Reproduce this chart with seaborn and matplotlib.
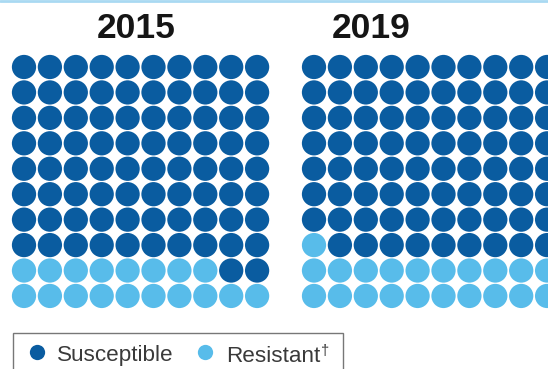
import numpy as np
import pandas as pd
import matplotlib
matplotlib.use("Agg")
import matplotlib.pyplot as plt
from matplotlib.lines import Line2D
from matplotlib.patches import Rectangle
import seaborn as sns

# ---- data ----
years = ["2015", "2019"]
susceptible = [82, 79]
resistant = [18, 21]
categories = ["Susceptible", "Resistant"]
colors = {"Susceptible": "#0a5ca0", "Resistant": "#58bcea"}

sns.set_theme(style="white")
plt.rcParams["font.family"] = ["Liberation Sans", "DejaVu Sans"]

W, H = 548, 369
fig = plt.figure(figsize=(W / 100, H / 100), dpi=100)
fig.patch.set_facecolor("white")

# layout (pixels)
sp_x, sp_y = 25.9, 25.44
grid_left = [24 - sp_x / 2, 314 - sp_x / 2]
grid_top = 67 - sp_y / 2
title_x = [136, 371]

for i, yr in enumerate(years):
    rows = []
    total = susceptible[i] + resistant[i]
    for k in range(total):
        cat = "Resistant" if k < resistant[i] else "Susceptible"
        rows.append({"col": k % 10, "row": 9 - k // 10, "status": cat})
    df = pd.DataFrame(rows)
    ax = fig.add_axes([grid_left[i] / W, 1 - (grid_top + 10 * sp_y) / H,
                       10 * sp_x / W, 10 * sp_y / H])
    sns.scatterplot(data=df, x="col", y="row", hue="status", palette=colors,
                    s=305, linewidth=0, legend=False, ax=ax, clip_on=False)
    ax.set_xlim(-0.5, 9.5)
    ax.set_ylim(9.5, -0.5)
    ax.axis("off")
    fig.text(title_x[i] / W, 1 - 38 / H, yr, ha="center", va="baseline",
             fontsize=25.5, fontweight="bold", color="#151515")

# legend box
fig.patches.append(Rectangle((12.5 / W, -0.05), (343 - 12.5) / W, (369 - 333) / H + 0.05,
                             transform=fig.transFigure, fill=False,
                             edgecolor="#777777", linewidth=1.0))

# legend entries (marker + label)
key_x = [37, 205]
label_x = [57, 226]
for c, kx, lx in zip(categories, key_x, label_x):
    fig.add_artist(Line2D([kx / W], [1 - 352 / H], transform=fig.transFigure,
                          marker="o", linestyle="none", markersize=11,
                          markerfacecolor=colors[c], markeredgewidth=0))
    t = fig.text(lx / W, 1 - 361.5 / H, c, ha="left", va="baseline",
                 fontsize=16.2, color="#3a3a3a")

# dagger superscript after "Resistant"
fig.canvas.draw()
renderer = fig.canvas.get_renderer()
bb = t.get_window_extent(renderer)
fig.text((bb.x1 + 1.0) / W, 1 - 344 / H, "\u2020", ha="left", va="top",
         fontsize=10.5, color="#3a3a3a")

# thin top border
fig.add_artist(Line2D([0, 1], [1 - 1 / H, 1 - 1 / H], transform=fig.transFigure,
                      color="#a9d9f2", linewidth=2))

fig.savefig("out.png", dpi=100)
